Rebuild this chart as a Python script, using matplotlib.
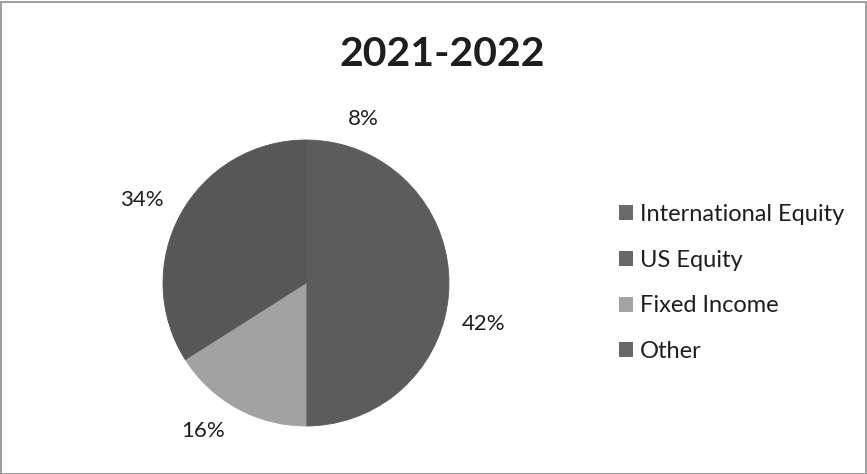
import numpy as np
from matplotlib import pyplot as plt
from matplotlib.patches import Patch

plt.rcParams['font.family'] = ['Lato', 'DejaVu Sans']

title = "2021-2022"
labels = ["International Equity", "US Equity", "Fixed Income", "Other"]
values = [8, 42, 16, 34]
colors = ["#5d5d5d", "#5c5c5c", "#a2a2a2", "#575757"]
legend_colors = ["#6a6a6a", "#676767", "#a3a3a3", "#686868"]
# Excel "best fit" label spots: (radius factor, angle shift in degrees)
label_dist = [1.214, 1.278, 1.261, 1.285]
label_shift = [-4.8, 1.4, -6.0, 2.0]

fig = plt.figure(figsize=(8.67, 4.74), dpi=100)
W, H = 867, 474
# outer chart frame
fig.patches.append(plt.Rectangle((0.5 / W, 0.5 / H), 1 - 2 / W, 1 - 2 / H,
                                 transform=fig.transFigure, fill=False,
                                 edgecolor="#8c8c8c", linewidth=1.2))

cx, cy, R = 306, 474 - 283, 143  # pie centre / radius in pixels
half = 1.6 * R
ax = fig.add_axes([(cx - half) / W, (cy - half) / H, 2 * half / W, 2 * half / H])
wedges, _ = ax.pie(values, colors=colors, startangle=90, counterclock=False,
                   radius=1, wedgeprops=dict(linewidth=0.6))
for w, c in zip(wedges, colors):
    w.set_edgecolor(c)
ax.set_xlim(-1.6, 1.6)
ax.set_ylim(-1.6, 1.6)
ax.set_aspect('equal')
ax.axis('off')

for w, v, d, s in zip(wedges, values, label_dist, label_shift):
    ang = np.deg2rad((w.theta1 + w.theta2) / 2 + s)
    ax.text(d * np.cos(ang), d * np.sin(ang), f"{v}%", ha='center', va='center',
            fontsize=16, color="#1e1e1e")

fig.text(442 / W, 1 - 54 / H, title, ha='center', va='center',
         fontsize=29.5, fontweight='bold', color="#1e1e1e")

handles = [Patch(facecolor=c, edgecolor='none') for c in legend_colors]
fig.legend(handles, labels, loc='center left', bbox_to_anchor=(598 / W, 1 - 283 / H),
           frameon=False, fontsize=17, handlelength=0.6, handleheight=0.6,
           handletextpad=0.28, labelspacing=1.05, labelcolor="#1e1e1e")

plt.savefig("out.png", dpi=100)
